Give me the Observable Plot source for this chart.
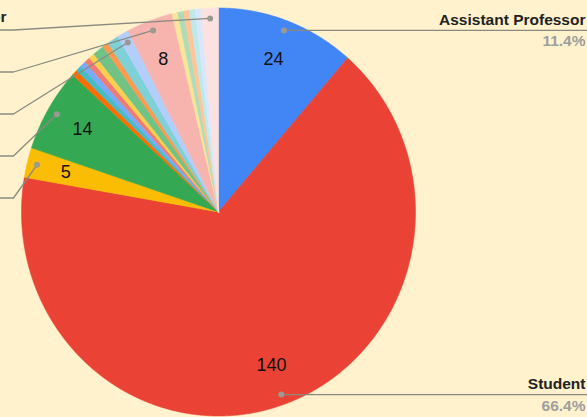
<!DOCTYPE html>
<html><head><meta charset="utf-8">
<script src="https://cdn.jsdelivr.net/npm/d3@7"></script>
<script src="https://cdn.jsdelivr.net/npm/@observablehq/plot@0.6"></script>
<style>html,body{margin:0;padding:0;background:#FFF2CC;overflow:hidden}</style>
</head><body><div id="chart"></div>
<script>
// ---- data ----
const categories = ["Assistant Professor","Student","Postdoc","PhD Candidate","Lecturer","Research Assistant","Research Fellow","Engineer","Technician","Data Scientist","Consultant","Librarian","Staff Scientist","Associate Professor","Visiting Scholar","Analyst","Developer","Manager","Administrator","Professor"];
const counts = [24,140,5,14,1,1,1,1,1,2,1,2,2,8,1,1,1,1,1,3];
const colors = ["#4285F4","#EA4335","#FBBC04","#34A853","#FF6D01","#46BDC6","#7BAAF7","#F07B72","#FCD04F","#71C287","#FF994D","#7ED1D7","#B3CEFB","#F7B4AE","#FDE49B","#AEDCBA","#FFC599","#BEE9EC","#D9E7FD","#FBE1DF"];
const valueLabelSlices = [0,1,2,3,13];
const rightCallouts = [0,1];
const leftCallouts = [19,13,12,3,2];

// ---- layout ----
const W = 587, H = 417;
const xRange = [21,415], yRange = [415.5,7.5];
const xs = d3.scaleLinear().domain([-1,1]).range(xRange);
const ys = d3.scaleLinear().domain([-1,1]).range(yRange);
const rowTop = 29.5, rowGap = 42, elbowPx = 13;

const total = d3.sum(counts);
let acc = 0;
const slices = counts.map((v,i)=>{
  const a0 = acc/total*2*Math.PI; acc += v; const a1 = acc/total*2*Math.PI;
  const mid = (a0+a1)/2;
  return {i, v, a0, a1, mid, name:categories[i], color:colors[i],
    pct: d3.format(".1f")(v/total*100)+"%",
    lx:0.8*Math.sin(mid), ly:0.8*Math.cos(mid),
    dx:0.95*Math.sin(mid), dy:0.95*Math.cos(mid)};
});
const pts = [];
for (const s of slices){
  pts.push({k:s.i,x:0,y:0,c:s.color});
  const n = Math.max(2, Math.ceil((s.a1-s.a0)/0.004));
  for (let j=0;j<=n;j++){const a=s.a0+(s.a1-s.a0)*j/n; pts.push({k:s.i,x:Math.sin(a),y:Math.cos(a),c:s.color});}
  pts.push({k:s.i,x:0,y:0,c:s.color});
}
const right = rightCallouts.map(i=>slices[i]);
const rightLines = right.flatMap(s=>[{k:s.i,x:s.dx,y:s.dy},{k:s.i,x:xs.invert(W),y:s.dy}]);
const leftLines = leftCallouts.flatMap((i,r)=>{const s=slices[i]; const yy=ys.invert(rowTop+rowGap*r);
  return [{k:i,x:s.dx,y:s.dy},{k:i,x:xs.invert(elbowPx),y:yy},{k:i,x:xs.invert(-40),y:yy}];});
const dots = [...rightCallouts, ...leftCallouts].map(i=>slices[i]);
const leftName = [{name:slices[leftCallouts[0]].name, x:xs.invert(6), y:ys.invert(rowTop)}];

const font = "Liberation Sans, Arial, Helvetica, sans-serif";
const chart = Plot.plot({
  width:W, height:H,
  x:{domain:[-1,1], range:xRange, axis:null},
  y:{domain:[-1,1], range:yRange, axis:null},
  color:{type:"identity"},
  style:{background:"#FFF2CC", fontFamily:font, overflow:"hidden"},
  marks:[
    Plot.line(pts,{x:"x",y:"y",z:"k",fill:"c",stroke:"c",strokeWidth:0.6,curve:"linear"}),
    Plot.line(rightLines,{x:"x",y:"y",z:"k",stroke:"#8a8a80",strokeWidth:1.3}),
    Plot.line(leftLines,{x:"x",y:"y",z:"k",stroke:"#8a8a80",strokeWidth:1.3}),
    Plot.dot(dots,{x:"dx",y:"dy",r:3,fill:"#9a9a90",stroke:"none"}),
    Plot.text(valueLabelSlices.map(i=>slices[i]),{x:"lx",y:"ly",text:d=>String(d.v),fontSize:18,fill:"#111"}),
    Plot.text(right,{x:()=>xs.invert(W),y:"dy",text:"name",textAnchor:"end",lineAnchor:"bottom",dx:-2,dy:-5.5,fontSize:15.5,fontWeight:"bold",fill:"#222"}),
    Plot.text(right,{x:()=>xs.invert(W),y:"dy",text:"pct",textAnchor:"end",lineAnchor:"bottom",dx:-2,dy:16,fontSize:15.5,fontWeight:"bold",fill:"#9e9e9e"}),
    Plot.text(leftName,{x:"x",y:"y",text:"name",textAnchor:"end",lineAnchor:"bottom",dy:-8,fontSize:15.5,fontWeight:"bold",fill:"#222"})
  ]
});
document.getElementById("chart").appendChild(chart);
</script></body></html>
